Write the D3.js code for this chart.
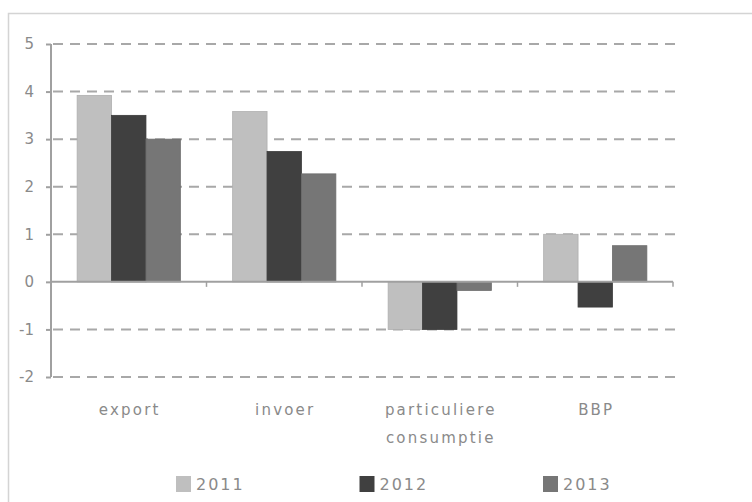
<!DOCTYPE html>
<html>
<head>
<meta charset="utf-8">
<script src="https://cdn.jsdelivr.net/npm/d3@7/dist/d3.min.js"></script>
<style>
  html, body { margin: 0; padding: 0; background: #fff; }
  svg { display: block; }
  text { font-family: "DejaVu Sans", sans-serif; fill: #8a8a8a; }
</style>
</head>
<body>
<svg id="chart" width="752" height="502"></svg>
<script>
// Volume growth (%) per component and year
const categories = ["export", "invoer", "particuliere consumptie", "BBP"];
const years = ["2011", "2012", "2013"];
const v2011 = [3.92, 3.58, -1.0, 1.0];
const v2012 = [3.5, 2.74, -1.0, -0.53];
const v2013 = [3.0, 2.27, -0.18, 0.76];
const yTicks = [-2, -1, 0, 1, 2, 3, 4, 5];
const colors = ["#bfbfbf", "#404040", "#767676"];

const series = [v2011, v2012, v2013];
const svg = d3.select("#chart");

// frame
svg.append("path")
  .attr("d", "M8.5,502 V13.5 H752")
  .attr("fill", "none")
  .attr("stroke", "#d4d4d4")
  .attr("stroke-width", 1.5);

const plot = { left: 51, right: 673, top: 44, bottom: 377 };

const x = d3.scaleBand().domain(categories).range([plot.left, plot.right]).padding(0);
const x1 = d3.scaleBand().domain(years).range([0, x.bandwidth()])
  .paddingInner(0).paddingOuter(0.76);
const y = d3.scaleLinear().domain([-2, 5]).range([plot.bottom, plot.top]);

// dashed gridlines
svg.append("g").selectAll("line")
  .data(yTicks.filter(t => t !== 0))
  .join("line")
  .attr("x1", plot.left + 2).attr("x2", plot.right + 2)
  .attr("y1", d => y(d)).attr("y2", d => y(d))
  .attr("stroke", "#a8a8a8")
  .attr("stroke-width", 2)
  .attr("stroke-dasharray", "10,7");

// bars
const groups = svg.append("g").selectAll("g")
  .data(categories)
  .join("g")
  .attr("transform", d => `translate(${x(d)},0)`);

groups.selectAll("rect")
  .data((c, ci) => years.map((yr, si) => ({ yr, si, v: series[si][ci] })))
  .join("rect")
  .attr("x", d => x1(d.yr))
  .attr("width", x1.bandwidth())
  .attr("y", d => y(Math.max(0, d.v)))
  .attr("height", d => Math.abs(y(d.v) - y(0)))
  .attr("fill", d => colors[d.si])
  .attr("stroke", d => d3.color(colors[d.si]).darker(0.25))
  .attr("stroke-width", 0.8);

// y axis (plain hyphen for negatives)
const yAxis = svg.append("g")
  .attr("transform", `translate(${plot.left},0)`)
  .call(d3.axisLeft(y).tickValues(yTicks).tickSize(5).tickPadding(12)
    .tickFormat(d => String(d)));
yAxis.select(".domain").attr("stroke", "#a0a0a0").attr("stroke-width", 2)
  .attr("d", `M0,${y(-2)}V${y(5)}`);
yAxis.selectAll(".tick line").attr("stroke", "#a0a0a0").attr("stroke-width", 2);
yAxis.selectAll(".tick text")
  .attr("font-size", 15)
  .style("font-family", "DejaVu Sans, sans-serif")
  .attr("fill", "#8a8a8a");

// zero line with category separators
const xAxis = svg.append("g")
  .attr("transform", `translate(0,${y(0)})`);
xAxis.append("line")
  .attr("x1", plot.left).attr("x2", plot.right)
  .attr("stroke", "#a0a0a0").attr("stroke-width", 2);
xAxis.selectAll("line.sep")
  .data(categories)
  .join("line")
  .attr("class", "sep")
  .attr("x1", d => x(d) + x.bandwidth()).attr("x2", d => x(d) + x.bandwidth())
  .attr("y1", 0).attr("y2", 5)
  .attr("stroke", "#a0a0a0").attr("stroke-width", 1.5);

// category labels
const labels = svg.append("g").selectAll("text")
  .data(categories)
  .join("text")
  .attr("x", d => x(d) + x.bandwidth() / 2 + 1)
  .attr("y", 415)
  .attr("text-anchor", "middle")
  .attr("font-size", 15)
  .attr("letter-spacing", 2.2);
labels.each(function(d) {
  const words = d.split(" ");
  const t = d3.select(this);
  words.forEach((w, i) => {
    t.append("tspan")
      .attr("x", x(d) + x.bandwidth() / 2 + 1)
      .attr("dy", i === 0 ? 0 : 28)
      .text(w);
  });
});

// legend
const legend = svg.append("g").selectAll("g")
  .data(years)
  .join("g")
  .attr("transform", (d, i) => `translate(${176 + i * 183.5},476)`);
legend.append("rect")
  .attr("width", 15).attr("height", 16)
  .attr("fill", (d, i) => colors[i]);
legend.append("text")
  .attr("x", 20).attr("y", 14)
  .attr("font-size", 16)
  .attr("letter-spacing", 2)
  .text(d => d);
</script>
</body>
</html>
